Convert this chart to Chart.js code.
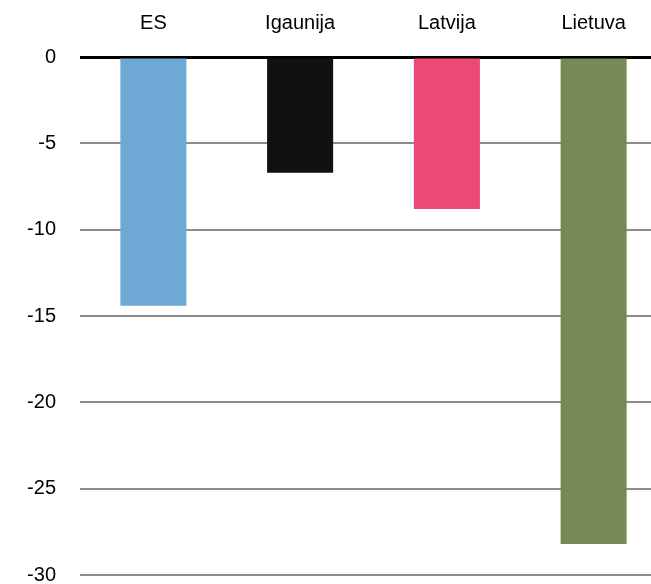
<!DOCTYPE html>
<html>
<head>
<meta charset="utf-8">
<script src="https://cdn.jsdelivr.net/npm/chart.js@4"></script>
<style>
  html, body { margin: 0; padding: 0; overflow: hidden; background: #fff; }
  #wrap { width: 667px; height: 611px; }
</style>
</head>
<body>
<div id="wrap"><canvas id="chart"></canvas></div>
<script>
const countries = ['ES', 'Igaunija', 'Latvija', 'Lietuva'];
const values = [-14.4, -6.7, -8.8, -28.2];
const barColors = ['#6DA9D4', '#111111', '#EA4A73', '#768A56'];

const ctx = document.getElementById('chart').getContext('2d');
new Chart(ctx, {
    type: 'bar',
    data: {
        labels: countries,
        datasets: [{
            data: values,
            backgroundColor: barColors,
            categoryPercentage: 0.9,
            barPercentage: 0.5
        }]
    },
    options: {
        responsive: true,
        maintainAspectRatio: false,
        animation: false,
        layout: { padding: 0 },
        plugins: {
            legend: { display: false },
            tooltip: { enabled: false }
        },
        scales: {
            x: {
                position: 'top',
                grid: { display: false, drawTicks: false },
                border: { display: false },
                ticks: {
                    color: '#000',
                    padding: 22,
                    font: { family: 'Liberation Sans', size: 20 }
                },
                afterFit: scale => { scale.height = 57; }
            },
            y: {
                min: -30,
                max: 0,
                ticks: {
                    stepSize: 5,
                    color: '#000',
                    padding: 24,
                    font: { family: 'Liberation Sans', size: 20 }
                },
                border: { display: false },
                grid: {
                    drawTicks: false,
                    color: c => c.tick.value === 0 ? '#000' : '#8c8c8c',
                    lineWidth: c => c.tick.value === 0 ? 3 : 2
                },
                afterFit: scale => { scale.width = 80; }
            }
        }
    }
});
</script>
</body>
</html>
